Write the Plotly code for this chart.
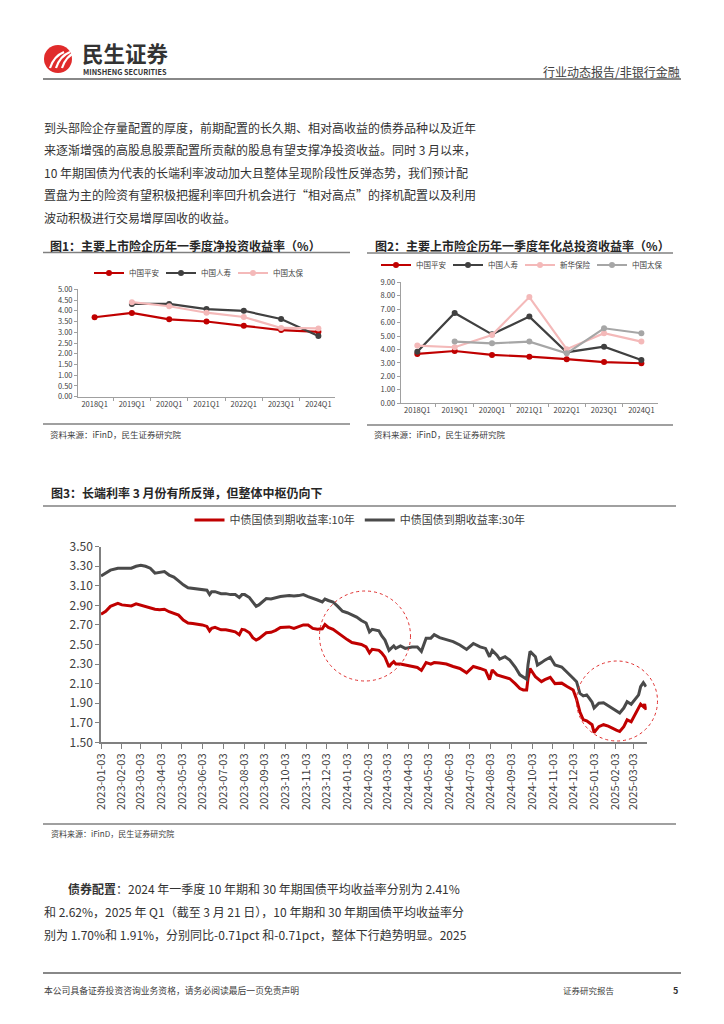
import plotly.graph_objects as go

W, H = 724, 1024
def px(x): return x / W
def py(y): return 1 - y / H

FONT = "Noto Sans CJK SC, Noto Sans, sans-serif"
RED = "#C00000"
DARK = "#404040"
PINK = "#F4B9B9"
LGRAY = "#A6A6A6"

# ---------------- data ----------------
quarters = ["2018Q1", "2019Q1", "2020Q1", "2021Q1", "2022Q1", "2023Q1", "2024Q1"]

# Fig 1: net investment yield (%)
f1_pingan = [3.70, 3.90, 3.60, 3.50, 3.30, 3.10, 3.02]
f1_renshou = [None, 4.32, 4.32, 4.08, 4.00, 3.62, 2.83]
f1_taibao = [None, 4.40, 4.21, 3.91, 3.71, 3.20, 3.18]

# Fig 2: annualized total investment yield (%)
f2_pingan = [3.67, 3.89, 3.60, 3.47, 3.28, 3.07, 2.98]
f2_renshou = [3.84, 6.72, 5.13, 6.45, 3.80, 4.21, 3.22]
f2_xinhua = [4.29, 4.17, 5.08, 7.90, 4.02, 5.21, 4.59]
f2_taibao = [None, 4.59, 4.46, 4.59, 3.72, 5.58, 5.21]

# Fig 3: China bond yields
dates = [
    "2023-01-03", "2023-01-10", "2023-01-17", "2023-01-28", "2023-02-03", "2023-02-10",
    "2023-02-17", "2023-02-24", "2023-03-03", "2023-03-10", "2023-03-17", "2023-03-24",
    "2023-03-31", "2023-04-07", "2023-04-14", "2023-04-21", "2023-04-28", "2023-05-05",
    "2023-05-12", "2023-05-19", "2023-05-26", "2023-06-02", "2023-06-09", "2023-06-13",
    "2023-06-16", "2023-06-21", "2023-06-30", "2023-07-07", "2023-07-14", "2023-07-21",
    "2023-07-27", "2023-07-31", "2023-08-04", "2023-08-11", "2023-08-16", "2023-08-21",
    "2023-08-25", "2023-08-31", "2023-09-05", "2023-09-12", "2023-09-19", "2023-09-26",
    "2023-10-09", "2023-10-16", "2023-10-23", "2023-10-30", "2023-11-06", "2023-11-13",
    "2023-11-20", "2023-11-27", "2023-12-01", "2023-12-06", "2023-12-13", "2023-12-20",
    "2023-12-27", "2024-01-03", "2024-01-10", "2024-01-17", "2024-01-24", "2024-01-31",
    "2024-02-05", "2024-02-09", "2024-02-19", "2024-02-23", "2024-02-28", "2024-03-05",
    "2024-03-08", "2024-03-12", "2024-03-15", "2024-03-22", "2024-03-29", "2024-04-08",
    "2024-04-16", "2024-04-22", "2024-04-29", "2024-05-06", "2024-05-11", "2024-05-19",
    "2024-05-29", "2024-06-08", "2024-06-18", "2024-06-28", "2024-07-08", "2024-07-18",
    "2024-07-26", "2024-08-01", "2024-08-05", "2024-08-12", "2024-08-16", "2024-08-24",
    "2024-08-31", "2024-09-08", "2024-09-15", "2024-09-20", "2024-09-25", "2024-09-27",
    "2024-09-30", "2024-10-08", "2024-10-11", "2024-10-17", "2024-10-22", "2024-10-30",
    "2024-11-06", "2024-11-16", "2024-11-24", "2024-12-03", "2024-12-08", "2024-12-13",
    "2024-12-18", "2024-12-23", "2024-12-27", "2024-12-31", "2025-01-03", "2025-01-10",
    "2025-01-17", "2025-01-24", "2025-02-05", "2025-02-10", "2025-02-16", "2025-02-21",
    "2025-02-27", "2025-03-04", "2025-03-10", "2025-03-13", "2025-03-17", "2025-03-19",
    "2025-03-21",
]
y10 = [
    2.81, 2.84, 2.89, 2.92, 2.905, 2.90, 2.895, 2.915, 2.90, 2.89, 2.87, 2.86,
    2.855, 2.86, 2.835, 2.82, 2.80, 2.75, 2.72, 2.715, 2.71, 2.70, 2.685, 2.64,
    2.665, 2.675, 2.65, 2.65, 2.64, 2.63, 2.60, 2.655, 2.65, 2.62, 2.57, 2.545,
    2.56, 2.59, 2.62, 2.625, 2.645, 2.675, 2.68, 2.665, 2.68, 2.70, 2.70, 2.665,
    2.655, 2.66, 2.705, 2.675, 2.655, 2.62, 2.58, 2.55, 2.52, 2.51, 2.50, 2.475,
    2.415, 2.45, 2.44, 2.415, 2.37, 2.27, 2.30, 2.325, 2.30, 2.30, 2.29, 2.28,
    2.265, 2.235, 2.315, 2.30, 2.315, 2.31, 2.30, 2.275, 2.255, 2.21, 2.275, 2.255,
    2.235, 2.14, 2.24, 2.19, 2.18, 2.165, 2.15, 2.10, 2.05, 2.035, 2.035, 2.15,
    2.255, 2.17, 2.15, 2.12, 2.14, 2.165, 2.10, 2.105, 2.07, 2.035, 1.94, 1.81,
    1.73, 1.72, 1.70, 1.68, 1.60, 1.66, 1.68, 1.665, 1.625, 1.61, 1.66, 1.73,
    1.71, 1.78, 1.85, 1.89, 1.865, 1.89, 1.83,
]
y30 = [
    3.20, 3.23, 3.26, 3.28, 3.28, 3.285, 3.28, 3.30, 3.31, 3.30, 3.28, 3.23,
    3.235, 3.245, 3.21, 3.19, 3.15, 3.11, 3.08, 3.075, 3.07, 3.065, 3.055, 3.01,
    3.04, 3.04, 3.02, 3.02, 3.01, 3.01, 2.98, 3.01, 3.01, 2.98, 2.93, 2.89,
    2.905, 2.94, 2.97, 2.965, 2.975, 2.99, 3.00, 2.995, 3.00, 3.01, 2.99, 2.975,
    2.955, 2.935, 2.965, 2.95, 2.935, 2.89, 2.84, 2.825, 2.80, 2.78, 2.745, 2.72,
    2.63, 2.655, 2.64, 2.59, 2.545, 2.44, 2.46, 2.485, 2.46, 2.485, 2.46, 2.475,
    2.475, 2.43, 2.565, 2.565, 2.60, 2.57, 2.55, 2.53, 2.495, 2.45, 2.51, 2.475,
    2.46, 2.375, 2.44, 2.39, 2.35, 2.375, 2.34, 2.27, 2.19, 2.165, 2.145, 2.29,
    2.43, 2.375, 2.29, 2.315, 2.34, 2.37, 2.29, 2.27, 2.22, 2.155, 2.12, 2.00,
    1.975, 1.985, 1.95, 1.91, 1.85, 1.90, 1.905, 1.875, 1.825, 1.80, 1.85, 1.915,
    1.89, 1.93, 1.985, 2.07, 2.11, 2.09, 2.07,
]
month_ticks = [
    "2023-01-03", "2023-02-03", "2023-03-03", "2023-04-03", "2023-05-03", "2023-06-03",
    "2023-07-03", "2023-08-03", "2023-09-03", "2023-10-03", "2023-11-03", "2023-12-03",
    "2024-01-03", "2024-02-03", "2024-03-03", "2024-04-03", "2024-05-03", "2024-06-03",
    "2024-07-03", "2024-08-03", "2024-09-03", "2024-10-03", "2024-11-03", "2024-12-03",
    "2025-01-03", "2025-02-03", "2025-03-03",
]

fig = go.Figure()

def small_line(x, y, name, color, xa, ya, leg):
    fig.add_trace(go.Scatter(
        x=x, y=y, name=name, mode="lines+markers", xaxis=xa, yaxis=ya, legend=leg,
        line=dict(color=color, width=2.2), marker=dict(color=color, size=6),
        connectgaps=False, showlegend=True))

small_line(quarters, f1_pingan, "中国平安", RED, "x", "y", "legend")
small_line(quarters, f1_renshou, "中国人寿", DARK, "x", "y", "legend")
small_line(quarters, f1_taibao, "中国太保", PINK, "x", "y", "legend")

small_line(quarters, f2_pingan, "中国平安", RED, "x2", "y2", "legend2")
small_line(quarters, f2_renshou, "中国人寿", DARK, "x2", "y2", "legend2")
small_line(quarters, f2_xinhua, "新华保险", PINK, "x2", "y2", "legend2")
small_line(quarters, f2_taibao, "中国太保", LGRAY, "x2", "y2", "legend2")

fig.add_trace(go.Scatter(x=dates, y=y10, name="中债国债到期收益率:10年", mode="lines",
                         xaxis="x3", yaxis="y3", legend="legend3",
                         line=dict(color=RED, width=3)))
fig.add_trace(go.Scatter(x=dates, y=y30, name="中债国债到期收益率:30年", mode="lines",
                         xaxis="x3", yaxis="y3", legend="legend3",
                         line=dict(color="#4A4A4A", width=3)))

axis_common = dict(showgrid=False, zeroline=False, showline=True, linecolor="#A0A0A0",
                   linewidth=1, ticks="outside", ticklen=3, tickcolor="#A0A0A0")

fig.update_layout(
    width=W, height=H, margin=dict(l=0, r=0, t=0, b=0, pad=0, autoexpand=False),
    paper_bgcolor="white", plot_bgcolor="white",
    font=dict(family=FONT, color="#404040"),
    xaxis=dict(domain=[px(78), px(335)], anchor="y", type="category",
               tickson="boundaries", tickfont=dict(size=7.5, color="#404040"), **axis_common),
    yaxis=dict(domain=[py(396.7), py(289.3)], anchor="x", range=[0, 5], dtick=0.5, tick0=0,
               tickformat=".2f", tickfont=dict(size=7.5, color="#404040"), **axis_common),
    xaxis2=dict(domain=[px(400.7), px(658)], anchor="y2", type="category",
                tickson="boundaries", tickfont=dict(size=7.5, color="#404040"), **axis_common),
    yaxis2=dict(domain=[py(403.3), py(282.3)], anchor="x2", range=[0, 9], dtick=1, tick0=0,
                tickformat=".2f", tickfont=dict(size=7.5, color="#404040"), **axis_common),
    xaxis3=dict(domain=[px(101), px(646.7)], anchor="y3", type="date",
                range=["2023-01-03", "2025-03-22"], tickvals=month_ticks, ticktext=month_ticks,
                tickangle=-90, tickfont=dict(size=11, color="#404040"),
                showgrid=False, zeroline=False, showline=True, linecolor="#808080",
                linewidth=1.5, ticks="outside", ticklen=5, tickcolor="#808080"),
    yaxis3=dict(domain=[py(742.3), py(546.7)], anchor="x3", range=[1.5, 3.5], dtick=0.2,
                tick0=1.5, tickformat=".2f", tickfont=dict(size=12, color="#404040"),
                showgrid=False, zeroline=False, showline=True, linecolor="#808080",
                linewidth=1.5, ticks="outside", ticklen=4, tickcolor="#808080"),
    legend=dict(orientation="h", x=px(197), y=py(273), xanchor="center", yanchor="middle",
                font=dict(size=7.5, color="#404040"), itemwidth=30, entrywidth=27,
                entrywidthmode="pixels", bgcolor="rgba(0,0,0,0)"),
    legend2=dict(orientation="h", x=px(520), y=py(265), xanchor="center", yanchor="middle",
                 font=dict(size=7.5, color="#404040"), itemwidth=30, entrywidth=27,
                 entrywidthmode="pixels", bgcolor="rgba(0,0,0,0)"),
    legend3=dict(orientation="h", x=px(360), y=py(520), xanchor="center", yanchor="middle",
                 font=dict(size=11, color="#404040"), itemwidth=30, bgcolor="rgba(0,0,0,0)"),
)

shapes = []
annotations = []

def hline(y, x0, x1, color="#808080", width=1.5):
    shapes.append(dict(type="line", xref="paper", yref="paper", x0=px(x0), x1=px(x1),
                       y0=py(y), y1=py(y), line=dict(color=color, width=width)))

def text(x, y, s, size=12, color="#333333", anchor="left", bold=False):
    if bold:
        s = "<b>" + s + "</b>"
    annotations.append(dict(xref="paper", yref="paper", x=px(x), y=py(y), text=s,
                            showarrow=False, xanchor=anchor, yanchor="middle",
                            borderpad=0, font=dict(size=size, color=color, family=FONT)))

# header
shapes.append(dict(type="circle", xref="paper", yref="paper", x0=px(44), x1=px(72),
                   y0=py(73), y1=py(45), fillcolor="#E02B2B", line=dict(width=0)))
for dx in (0, 6, 12):
    shapes.append(dict(type="path", xref="paper", yref="paper",
                       path="M %f %f Q %f %f %f %f" % (px(50 + dx), py(68), px(54 + dx), py(56),
                                                       px(64 + dx), py(52)),
                       line=dict(color="white", width=2.2)))
text(81, 52, "民生证券", size=21.5, color="#333333", bold=True)
text(82, 71.5, "MINSHENG SECURITIES", size=7.3, color="#333333", bold=True)
text(681, 71, "行业动态报告/非银行金融", size=12, color="#404040", anchor="right")
hline(79, 43, 681, color="#606060", width=1.5)

# body paragraph
body = [
    "到头部险企存量配置的厚度，前期配置的长久期、相对高收益的债券品种以及近年",
    "来逐渐增强的高股息股票配置所贡献的股息有望支撑净投资收益。同时 3 月以来，",
    "10 年期国债为代表的长端利率波动加大且整体呈现阶段性反弹态势，我们预计配",
    "置盘为主的险资有望积极把握利率回升机会进行“相对高点”的择机配置以及利用",
    "波动积极进行交易增厚固收的收益。",
]
for i, line in enumerate(body):
    text(43, 127 + i * 22.6, line, size=12, color="#333333")

# figure titles & rules
text(49, 245, "图1：主要上市险企历年一季度净投资收益率（%）", size=12, color="#262626", bold=True)
hline(252.5, 43, 350)
text(374, 245, "图2：主要上市险企历年一季度年化总投资收益率（%）", size=12, color="#262626", bold=True)
hline(253, 367, 673)
hline(424, 43, 350)
hline(425, 367, 673)
text(49, 434, "资料来源：iFinD，民生证券研究院", size=8.5, color="#404040")
text(373, 434, "资料来源：iFinD，民生证券研究院", size=8.5, color="#404040")

text(50, 492, "图3：长端利率 3 月份有所反弹，但整体中枢仍向下", size=12, color="#262626", bold=True)
hline(506, 43, 676)
hline(824, 43, 676)
text(50, 833, "资料来源：iFinD，民生证券研究院", size=8, color="#404040")

# dotted circles
shapes.append(dict(type="circle", xref="paper", yref="paper", x0=px(319.5), x1=px(410.5),
                   y0=py(681), y1=py(591), line=dict(color="#E03030", width=1, dash="dot")))
shapes.append(dict(type="circle", xref="paper", yref="paper", x0=px(576.5), x1=px(657.5),
                   y0=py(741), y1=py(661), line=dict(color="#E03030", width=1, dash="dot")))

# bottom paragraph
bottom = [
    "<b>债券配置</b>：2024 年一季度 10 年期和 30 年期国债平均收益率分别为 2.41%",
    "和 2.62%，2025 年 Q1（截至 3 月 21 日），10 年期和 30 年期国债平均收益率分",
    "别为 1.70%和 1.91%，分别同比-0.71pct 和-0.71pct，整体下行趋势明显。2025",
]
text(67, 888, bottom[0], size=12, color="#333333")
text(43, 911, bottom[1], size=12, color="#333333")
text(43, 934, bottom[2], size=12, color="#333333")

# footer
hline(973, 43, 681, color="#606060", width=1.5)
text(43, 990, "本公司具备证券投资咨询业务资格，请务必阅读最后一页免责声明", size=8.8, color="#404040")
text(562, 990, "证券研究报告", size=8.5, color="#404040")
text(672, 990, "5", size=9, color="#333333", bold=True)

fig.update_layout(shapes=shapes, annotations=annotations)
fig.write_html("out.html", config={"displayModeBar": False},
               post_script="document.body.style.margin='0';")
